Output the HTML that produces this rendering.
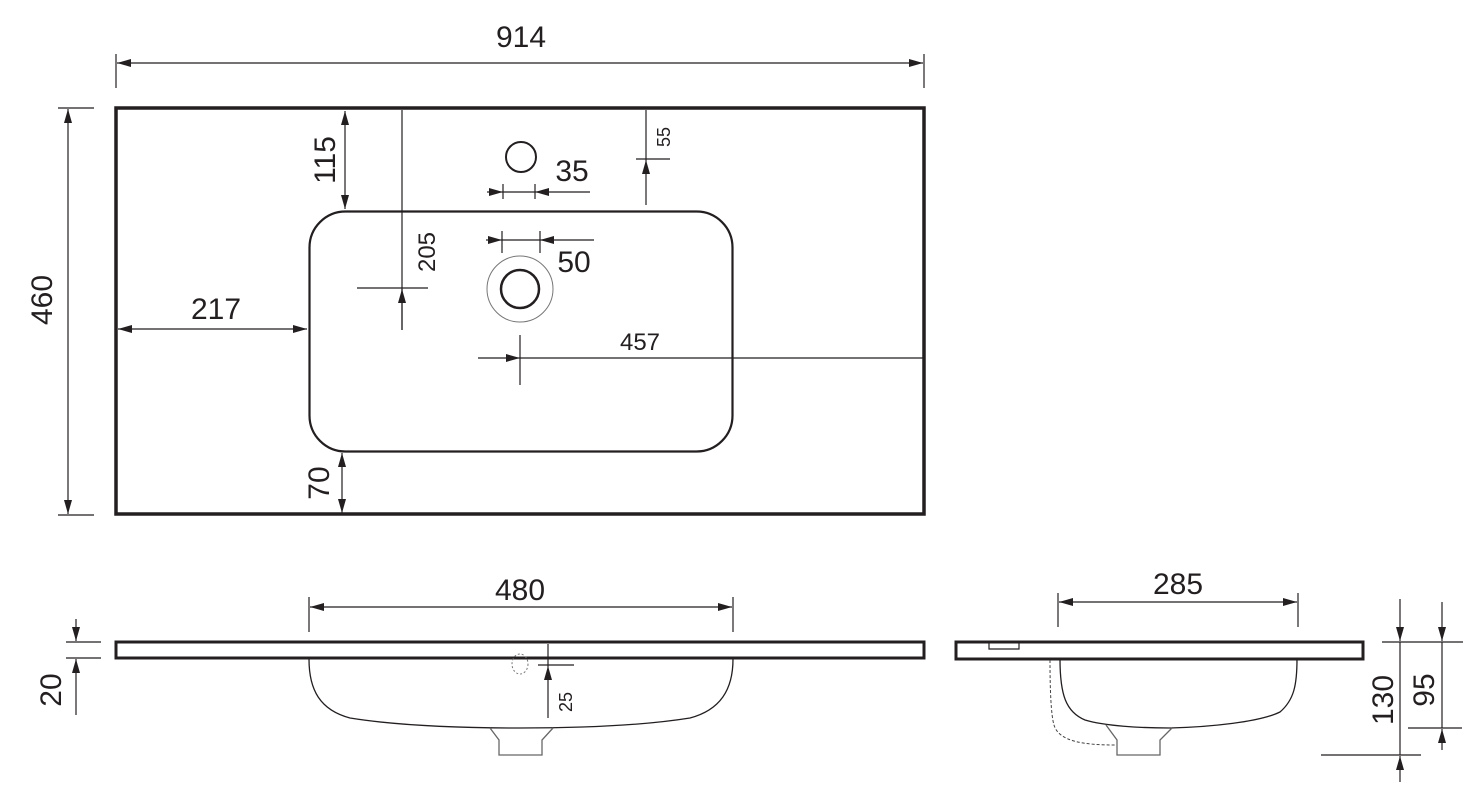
<!DOCTYPE html>
<html><head><meta charset="utf-8"><style>
html,body{margin:0;padding:0;background:#fff;}
svg{display:block}
text{font-family:"Liberation Sans",sans-serif;fill:#231f20}
</style></head><body>
<svg width="1483" height="804" viewBox="0 0 1483 804" xmlns="http://www.w3.org/2000/svg">
<defs>
<marker id="a" viewBox="0 0 14 8" refX="14" refY="4" markerWidth="14" markerHeight="8" markerUnits="userSpaceOnUse" orient="auto-start-reverse"><path d="M0,0L14,4L0,8Z" fill="#231f20"/></marker>
</defs>
<g stroke="#231f20" fill="none">
<!-- top view -->
<rect x="116" y="108" width="808" height="406" stroke-width="3.5"/>
<rect x="309.5" y="211.5" width="423" height="240" rx="36" ry="36" stroke-width="2.2"/>
<circle cx="521" cy="157" r="15" stroke-width="2"/>
<circle cx="520" cy="289" r="33" stroke-width="1" stroke="#777"/>
<circle cx="520" cy="289" r="19" stroke-width="2.5"/>
<g stroke-width="1.2">
<line x1="116" y1="54" x2="116" y2="88"/><line x1="924" y1="54" x2="924" y2="88"/>
<line x1="117" y1="63" x2="923" y2="63" marker-start="url(#a)" marker-end="url(#a)"/>
<line x1="58" y1="108" x2="94" y2="108"/><line x1="58" y1="515" x2="94" y2="515"/>
<line x1="68" y1="109" x2="68" y2="514" marker-start="url(#a)" marker-end="url(#a)"/>
<line x1="345" y1="111" x2="345" y2="209" marker-start="url(#a)" marker-end="url(#a)"/>
<line x1="402" y1="110" x2="402" y2="330"/>
<line x1="357" y1="288" x2="428" y2="288"/>
<line x1="402" y1="330" x2="402" y2="289" marker-end="url(#a)"/>
<line x1="503" y1="184" x2="503" y2="199"/><line x1="535" y1="184" x2="535" y2="199"/>
<line x1="487" y1="192" x2="503" y2="192" marker-end="url(#a)"/>
<line x1="590" y1="192" x2="535" y2="192" marker-end="url(#a)"/>
<line x1="503" y1="192" x2="535" y2="192"/>
<line x1="646" y1="110" x2="646" y2="160"/>
<line x1="636" y1="159" x2="670" y2="159"/>
<line x1="646" y1="205" x2="646" y2="160" marker-end="url(#a)"/>
<line x1="502" y1="231" x2="502" y2="253"/><line x1="540" y1="231" x2="540" y2="253"/>
<line x1="486" y1="240" x2="502" y2="240" marker-end="url(#a)"/>
<line x1="594" y1="240" x2="540" y2="240" marker-end="url(#a)"/>
<line x1="502" y1="240" x2="540" y2="240"/>
<line x1="118" y1="329" x2="307" y2="329" marker-start="url(#a)" marker-end="url(#a)"/>
<line x1="520" y1="335" x2="520" y2="385"/>
<line x1="478" y1="358" x2="520" y2="358" marker-end="url(#a)"/>
<line x1="520" y1="358" x2="923" y2="358"/>
<line x1="342" y1="453" x2="342" y2="513" marker-start="url(#a)" marker-end="url(#a)"/>
</g>

<!-- front view -->
<rect x="116" y="642" width="808" height="16" stroke-width="3"/>
<path d="M309,659 C309,690 320,710 350,718 C400,726 460,728 520,728 C580,728 640,726 690,718 C720,710 733,690 733,659" stroke-width="1.3"/>
<path d="M490,728 L499,740 L499,755 L542,755 L542,740 L553,728" stroke="#666" stroke-width="1.3"/>
<ellipse cx="520" cy="664" rx="8" ry="10" stroke="#777" stroke-width="1" stroke-dasharray="2,2"/>
<g stroke-width="1.2">
<line x1="309" y1="597" x2="309" y2="632"/><line x1="733" y1="597" x2="733" y2="632"/>
<line x1="310" y1="607" x2="732" y2="607" marker-start="url(#a)" marker-end="url(#a)"/>
<line x1="66" y1="642" x2="101" y2="642"/><line x1="66" y1="658" x2="101" y2="658"/>
<line x1="76" y1="619" x2="76" y2="641" marker-end="url(#a)"/>
<line x1="76" y1="715" x2="76" y2="659" marker-end="url(#a)"/>
<line x1="548" y1="644" x2="548" y2="666"/>
<line x1="538" y1="665" x2="574" y2="665"/>
<line x1="548" y1="718" x2="548" y2="666" marker-end="url(#a)"/>
</g>

<!-- side view -->
<rect x="956" y="642" width="407" height="17" stroke-width="3"/>
<path d="M989,643 L989,649 L1019,649 L1019,643" stroke-width="1.2"/>
<path d="M1060,659 C1060,695 1066,712 1085,720 C1105,726 1140,728 1170,728 C1210,727 1260,722 1280,712 C1294,700 1297,685 1297,659" stroke-width="1.3"/>
<path d="M1106,725 L1117,740 L1117,755 L1160,755 L1160,740 L1172,728" stroke="#666" stroke-width="1.3"/>
<path d="M1050,660 C1050,690 1051,715 1054,725 C1059,742 1085,745 1116,745" stroke="#444" stroke-width="1" stroke-dasharray="3,2"/>
<g stroke-width="1.2">
<line x1="1058" y1="593" x2="1058" y2="627"/><line x1="1298" y1="593" x2="1298" y2="627"/>
<line x1="1059" y1="602" x2="1297" y2="602" marker-start="url(#a)" marker-end="url(#a)"/>
<line x1="1382" y1="642" x2="1463" y2="642"/>
<line x1="1321" y1="755" x2="1421" y2="755"/>
<line x1="1408" y1="728" x2="1462" y2="728"/>
<line x1="1400" y1="599" x2="1400" y2="641" marker-end="url(#a)"/>
<line x1="1400" y1="642" x2="1400" y2="755"/>
<line x1="1400" y1="782" x2="1400" y2="756" marker-end="url(#a)"/>
<line x1="1442" y1="602" x2="1442" y2="641" marker-end="url(#a)"/>
<line x1="1442" y1="642" x2="1442" y2="728"/>
<line x1="1442" y1="750" x2="1442" y2="729" marker-end="url(#a)"/>
</g>
</g>

<g font-size="30">
<text x="521" y="47" text-anchor="middle">914</text>
<text transform="translate(52,300) rotate(-90)" text-anchor="middle">460</text>
<text transform="translate(335,160) rotate(-90)" text-anchor="middle">115</text>
<text x="572" y="181" text-anchor="middle">35</text>
<text x="574" y="272" text-anchor="middle">50</text>
<text x="216" y="319" text-anchor="middle">217</text>
<text transform="translate(329,483) rotate(-90)" text-anchor="middle">70</text>
<text x="520" y="600" text-anchor="middle">480</text>
<text transform="translate(61,690) rotate(-90)" text-anchor="middle">20</text>
<text x="1178" y="594" text-anchor="middle">285</text>
<text transform="translate(1393,700) rotate(-90)" text-anchor="middle">130</text>
<text transform="translate(1434,690) rotate(-90)" text-anchor="middle">95</text>
</g>
<g font-size="24">
<text transform="translate(435,252) rotate(-90)" text-anchor="middle">205</text>
<text x="640" y="350" text-anchor="middle">457</text>
</g>
<g font-size="18">
<text transform="translate(670,137) rotate(-90)" text-anchor="middle">55</text>
<text transform="translate(572,702) rotate(-90)" text-anchor="middle">25</text>
</g>
</svg>
</body></html>
